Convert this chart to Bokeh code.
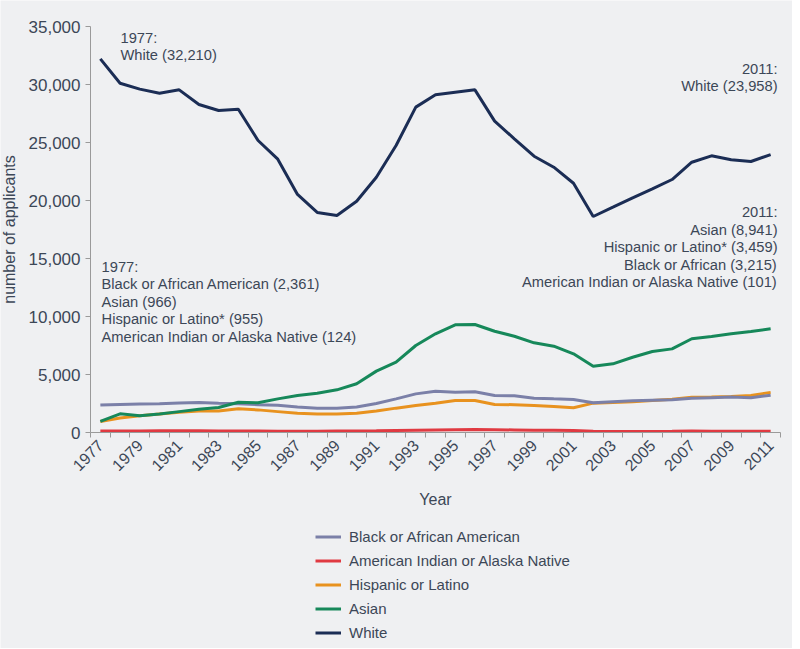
import numpy as np
from bokeh.plotting import figure
from bokeh.models import (Range1d, FixedTicker, PrintfTickFormatter, NumeralTickFormatter,
                          Legend, LegendItem, Label)
from bokeh.embed import file_html
from bokeh.resources import INLINE
from math import pi

years = list(range(1977, 2012))

white = [32210, 30110, 29600, 29250, 29540, 28280, 27760, 27870, 25170, 23560,
         20520, 18970, 18710, 19940, 22010, 24740, 28050, 29110, 29340, 29540,
         26840, 25320, 23820, 22870, 21490, 18620, 19420, 20230, 21010, 21810,
         23300, 23850, 23510, 23360, 23958]
asian = [966, 1610, 1440, 1600, 1800, 2000, 2150, 2610, 2560, 2900,
         3190, 3390, 3680, 4200, 5290, 6060, 7500, 8510, 9280, 9310,
         8730, 8300, 7730, 7440, 6780, 5720, 5920, 6490, 6980, 7210,
         8080, 8280, 8510, 8710, 8941]
black = [2361, 2420, 2450, 2480, 2550, 2580, 2520, 2480, 2400, 2350,
         2200, 2100, 2100, 2200, 2500, 2900, 3330, 3560, 3480, 3510,
         3190, 3160, 2960, 2900, 2850, 2560, 2650, 2730, 2780, 2830,
         2950, 3000, 3050, 3000, 3215]
hispanic = [955, 1250, 1450, 1600, 1750, 1850, 1850, 2050, 1950, 1800,
            1650, 1600, 1600, 1650, 1850, 2100, 2330, 2530, 2760, 2760,
            2410, 2400, 2330, 2250, 2130, 2530, 2580, 2650, 2760, 2870,
            3040, 3060, 3100, 3190, 3459]
amind = [124, 130, 140, 150, 150, 150, 140, 130, 120, 110,
         110, 110, 120, 130, 150, 180, 200, 220, 240, 250,
         240, 220, 200, 190, 170, 110, 90, 90, 90, 100,
         120, 110, 100, 100, 101]

series_names = ["Black or African American", "American Indian or Alaska Native",
                "Hispanic or Latino", "Asian", "White"]
series_values = [black, amind, hispanic, asian, white]
series_colors = ["#7b80a8", "#e03a42", "#e8921f", "#16885a", "#1b2d55"]

y_ticks = [0, 5000, 10000, 15000, 20000, 25000, 30000, 35000]
x_label_years = list(range(1977, 2012, 2))

notes_tl = ["1977:", "White (32,210)"]
notes_tr = ["2011:", "White (23,958)"]
notes_ml = ["1977:", "Black or African American (2,361)", "Asian (966)",
            "Hispanic or Latino* (955)", "American Indian or Alaska Native (124)"]
notes_mr = ["2011:", "Asian (8,941)", "Hispanic or Latino* (3,459)",
            "Black or African (3,215)", "American Indian or Alaska Native (101)"]

BG = "#eff0f2"
TXT = "#3c4757"
FONT = "Liberation Sans"

# Layout: the frame covers the whole canvas; the axes sit at fixed positions inside it.
X0, X1 = 1976.5, 2011.5
Y0, Y1 = 0, 35000
PLOT_W, PLOT_H = 690, 406          # px of the data area
LEFT, RIGHT, TOP, BOTTOM = 90, 12, 26, 216
px_x = (X1 - X0) / PLOT_W
px_y = (Y1 - Y0) / PLOT_H

p = figure(frame_width=LEFT + PLOT_W + RIGHT, frame_height=TOP + PLOT_H + BOTTOM,
           output_backend="svg", toolbar_location=None,
           x_range=Range1d(X0 - LEFT * px_x, X1 + RIGHT * px_x),
           y_range=Range1d(Y0 - BOTTOM * px_y, Y1 + TOP * px_y),
           min_border_left=0, min_border_right=0, min_border_top=0, min_border_bottom=0,
           background_fill_color=BG, border_fill_color=BG, outline_line_color=None)
p.grid.visible = False

renderers = {}
for idx in [1, 2, 0, 3, 4]:
    r = p.line(years, series_values[idx], line_color=series_colors[idx], line_width=3)
    renderers[idx] = r

xa = p.xaxis[0]
xa.fixed_location = Y0
xa.bounds = (X0, X1)
xa.ticker = FixedTicker(ticks=x_label_years, minor_ticks=[y - 0.5 for y in years] + [X1])
xa.formatter = PrintfTickFormatter(format="%d")
xa.major_tick_line_color = None
xa.minor_tick_line_color = "#9a9a9a"
xa.minor_tick_out = 5
xa.minor_tick_in = 0
xa.major_label_orientation = pi / 4
xa.axis_line_color = "#9a9a9a"
xa.major_label_text_font = FONT
xa.major_label_text_font_size = "16px"
xa.major_label_text_color = TXT
xa.major_label_standoff = 4
xa.axis_label = "Year"
xa.axis_label_text_font = FONT
xa.axis_label_text_font_size = "16px"
xa.axis_label_text_font_style = "normal"
xa.axis_label_text_color = TXT
xa.axis_label_standoff = 12

ya = p.yaxis[0]
ya.fixed_location = X0
ya.bounds = (Y0, Y1)
ya.ticker = FixedTicker(ticks=y_ticks)
ya.formatter = NumeralTickFormatter(format="0,0")
ya.minor_tick_line_color = None
ya.major_tick_line_color = "#9a9a9a"
ya.major_tick_out = 5
ya.major_tick_in = 0
ya.axis_line_color = "#9a9a9a"
ya.major_label_text_font = FONT
ya.major_label_text_font_size = "17px"
ya.major_label_text_color = TXT
ya.major_label_standoff = 5
ya.axis_label = "number of applicants"
ya.axis_label_text_font = FONT
ya.axis_label_text_font_size = "16px"
ya.axis_label_text_font_style = "normal"
ya.axis_label_text_color = TXT
ya.axis_label_standoff = 8

def add_block(lines, x, y, align):
    for i, t in enumerate(lines):
        p.add_layout(Label(x=x, y=y, y_offset=-17.5 * i, text=t, text_align=align,
                           text_baseline="alphabetic", text_font=FONT,
                           text_font_size="14.7px", text_color=TXT))

add_block(notes_tl, 1978.02, 34010, "left")
add_block(notes_tr, 2011.35, 31350, "right")
add_block(notes_ml, 1977.06, 14310, "left")
add_block(notes_mr, 2011.35, 18990, "right")

legend = Legend(items=[LegendItem(label=series_names[i], renderers=[renderers[i]]) for i in range(5)],
                location=(LEFT + 225, 6), orientation="vertical",
                background_fill_alpha=0, border_line_color=None,
                label_text_font=FONT, label_text_font_size="15px", label_text_color=TXT,
                glyph_width=26, glyph_height=19, label_height=19, spacing=5,
                label_standoff=8, padding=0, margin=0)
p.add_layout(legend, "center")

html = file_html(p, INLINE)
html = html.replace("<body>", '<body style="background-color:%s;">' % BG, 1)
open("out.html", "w").write(html)
